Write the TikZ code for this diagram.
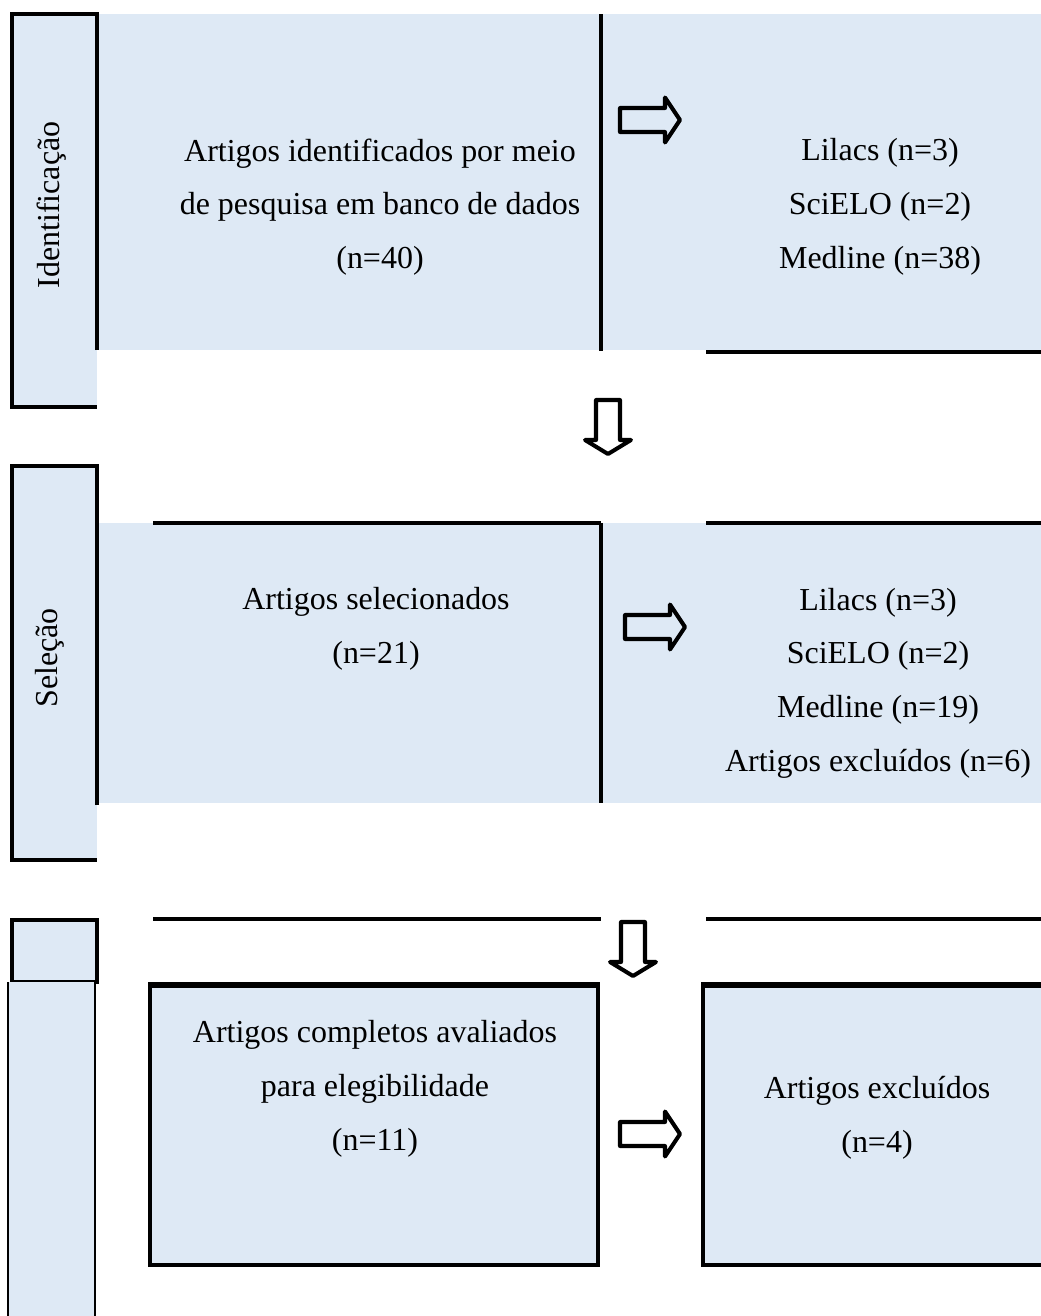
\documentclass[tikz,border=0pt]{standalone}
\usepackage{fontspec}
\setmainfont{Liberation Serif}
\definecolor{panelblue}{RGB}{222,233,245}
\tikzset{
  panel/.style={fill=panelblue, draw=none},
  rule/.style={line width=1.9pt},
  blockarrow/.style={line width=2.3pt, line join=round},
  txt/.style={font=\fontsize{18.2}{30.6}\selectfont, align=center, inner sep=0pt},
}
\begin{document}
\begin{tikzpicture}[x=0.02cm, y=-0.02cm]
  \useasboundingbox (0,0) rectangle (1041,1316);
  % identificacao
  \fill[panel] (97,14) rectangle (1041,350);
  \fill[panel] (12,14) rectangle (97,407);
  \draw[rule] (97,350) -- (97,14) -- (12,14) -- (12,407) -- (97,407);
  \draw[rule] (601,14) -- (601,351);
  \draw[rule] (706,352) -- (1041,352);
  \node[txt, rotate=90] (ident) at (52,205) {Identificação};
  \node[txt] (busca) at (380,207) {Artigos identificados por meio\\de pesquisa em banco de dados\\(n=40)};
  \node[txt] (bases1) at (880,207) {Lilacs (n=3)\\SciELO (n=2)\\Medline (n=38)};
  % selecao
  \fill[panel] (97,523) rectangle (1041,803);
  \fill[panel] (12,466) rectangle (97,860);
  \draw[rule] (97,805) -- (97,466) -- (12,466) -- (12,860) -- (97,860);
  \draw[rule] (153,523) -- (601,523);
  \draw[rule] (706,523) -- (1041,523);
  \draw[rule] (601,523) -- (601,803);
  \node[txt, rotate=90] (sel) at (50,658) {Seleção};
  \node[txt] (selec) at (376,629) {Artigos selecionados\\(n=21)};
  \node[txt] (bases2) at (878,683) {Lilacs (n=3)\\SciELO (n=2)\\Medline (n=19)\\Artigos excluídos (n=6)};
  % elegibilidade
  \fill[panel] (12,920) rectangle (97,982);
  \draw[rule] (12,920) rectangle (97,982);
  \fill[panel] (8,982) rectangle (95,1316);
  \draw[line width=1.1pt] (8,982) -- (8,1316);
  \draw[line width=1.1pt] (95,982) -- (95,1316);
  \draw[rule] (153,919) -- (601,919);
  \draw[rule] (706,919) -- (1041,919);
  \filldraw[panel, draw=black, rule] (150,984) rectangle (598,1265);
  \draw[line width=2.9pt] (148,985) -- (600,985);
  \fill[panel] (703,984) rectangle (1041,1265);
  \draw[rule] (1041,984) -- (703,984) -- (703,1265) -- (1041,1265);
  \draw[line width=2.9pt] (701,985) -- (1041,985);
  \node[txt] (compl) at (375,1089) {Artigos completos avaliados\\para elegibilidade\\(n=11)};
  \node[txt] (excl) at (877,1118) {Artigos excluídos\\(n=4)};
  % setas
  \foreach \x/\y in {620/120, 625/627, 620/1134}
    \draw[blockarrow] (\x,\y-12) -- (\x+45,\y-12) -- (\x+45,\y-22.5) -- (\x+60,\y)
      -- (\x+45,\y+22.5) -- (\x+45,\y+12) -- (\x,\y+12) -- cycle;
  \foreach \x/\y in {608/400, 633/922}
    \draw[blockarrow] (\x-12,\y) -- (\x+12,\y) -- (\x+12,\y+40) -- (\x+23,\y+40)
      -- (\x,\y+54) -- (\x-23,\y+40) -- (\x-12,\y+40) -- cycle;
\end{tikzpicture}
\end{document}
